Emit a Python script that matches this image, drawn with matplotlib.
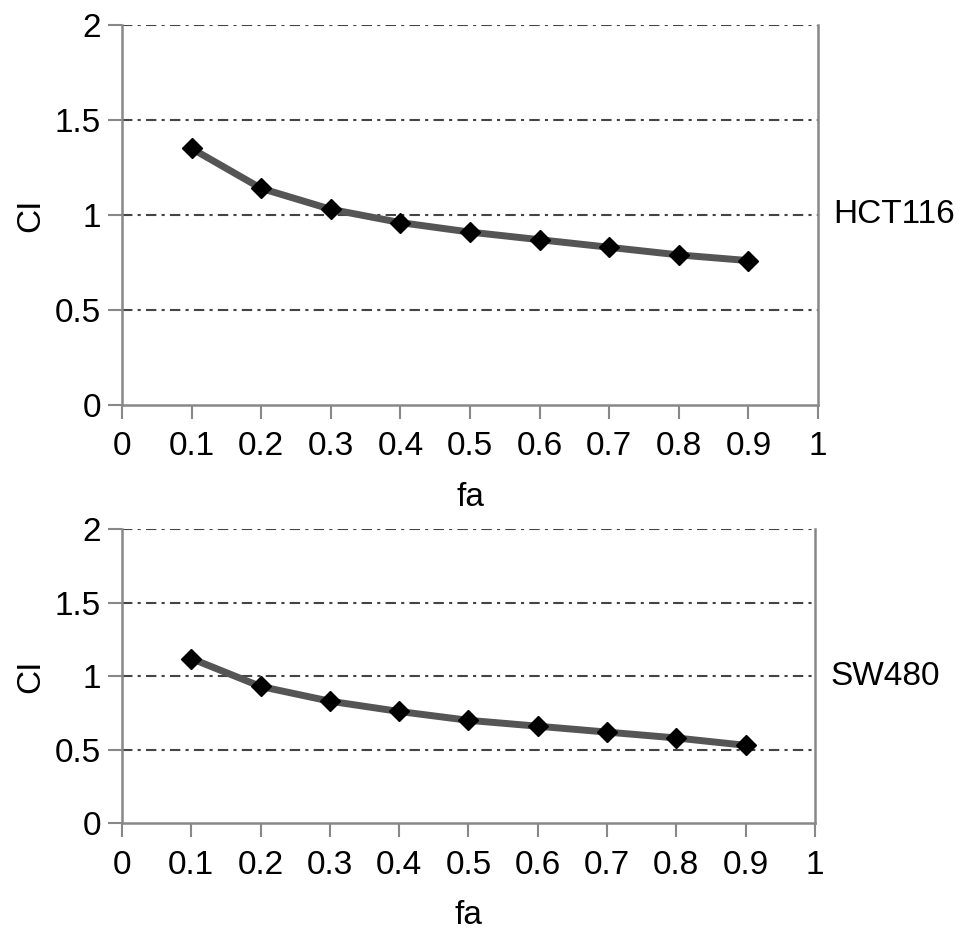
import matplotlib
matplotlib.use("Agg")
import matplotlib.pyplot as plt

plt.rcParams['font.family'] = ['Liberation Sans', 'DejaVu Sans']

# 数据
fa = [0.1, 0.2, 0.3, 0.4, 0.5, 0.6, 0.7, 0.8, 0.9]
ci_hct116 = [1.35, 1.14, 1.03, 0.96, 0.91, 0.87, 0.83, 0.79, 0.76]
ci_sw480 = [1.12, 0.93, 0.83, 0.76, 0.70, 0.66, 0.62, 0.58, 0.53]
x_ticks = [0, 0.1, 0.2, 0.3, 0.4, 0.5, 0.6, 0.7, 0.8, 0.9, 1]
x_tick_labels = ["0", "0.1", "0.2", "0.3", "0.4", "0.5", "0.6", "0.7", "0.8", "0.9", "1"]
y_ticks = [0, 0.5, 1, 1.5, 2]
y_tick_labels = ["0", "0.5", "1", "1.5", "2"]
cell_lines = ["HCT116", "SW480"]

fig = plt.figure(figsize=(9.69, 9.36), dpi=100)
ax1 = fig.add_axes([0.1259, 0.5673, 0.7183, 0.406])
ax2 = fig.add_axes([0.1259, 0.1204, 0.715, 0.3144])

spine_col = "#888888"
fs = 24

for ax, ci, name in zip([ax1, ax2], [ci_hct116, ci_sw480], cell_lines):
    ax.set_xlim(0, 1)
    ax.set_ylim(0, 2)
    # 虚点网格线
    for yv in y_ticks[1:]:
        ax.axhline(yv, color="#444444", lw=1.5, ls=(0, (5, 2.5, 1.5, 2.5)), zorder=1)
    ax.plot(fa, ci, color="#555555", lw=5, zorder=2, solid_capstyle="round")
    ax.plot(fa, ci, ls="none", marker="D", ms=10, color="black", zorder=3)
    ax.set_xticks(x_ticks)
    ax.set_xticklabels(x_tick_labels)
    ax.set_yticks(y_ticks)
    ax.set_yticklabels(y_tick_labels)
    ax.tick_params(direction="out", length=10, width=1.5, color=spine_col,
                   labelsize=fs, pad=5)
    ax.tick_params(axis="x", pad=9)
    ax.spines["top"].set_visible(False)
    for s in ["left", "bottom", "right"]:
        ax.spines[s].set_color(spine_col)
        ax.spines[s].set_linewidth(1.8)
    ax.set_xlabel("fa", fontsize=fs, labelpad=14)
    ax.set_ylabel("CI", fontsize=fs, labelpad=6)
    ax.text(1.022, 0.5, name, transform=ax.transAxes, fontsize=fs,
            ha="left", va="center")

fig.savefig("out.png", dpi=100)
